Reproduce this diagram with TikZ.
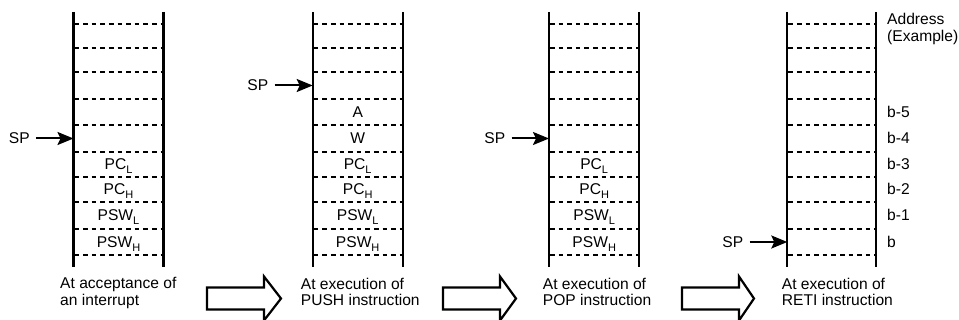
\documentclass[tikz,border=0pt]{standalone}
\usepackage{fontspec}
\setmainfont{Liberation Sans}
\usetikzlibrary{arrows.meta}
\newcommand\sbs[1]{\raisebox{-4pt}{\fontsize{11}{11}\selectfont #1}}
\begin{document}
\begin{tikzpicture}[x=1pt,y=-1pt,
  every node/.style={font=\fontsize{15.6}{16.5}\selectfont, inner sep=0pt},
  wall/.style={line width=2.2pt},
  slot/.style={line width=2pt, dash pattern=on 4.6pt off 4pt},
  sparrow/.style={line width=2pt, -{Stealth[length=16pt,width=13pt,inset=3pt]}, shorten <=6pt},
  hollow/.style={line width=2.2pt, fill=white, line join=miter},
  cell/.style={anchor=base},
  caption/.style={anchor=north west, align=left},
  spnode/.style={anchor=east},
]
\useasboundingbox (0,0) rectangle (959,320);

% stacks: walls and slot lines
\foreach \n/\xl/\xr in {1/73.5/163.5, 2/312.7/402.7, 3/549/639.3, 4/787.3/876} {
  \coordinate (L\n t) at (\xl,12);
  \coordinate (L\n b) at (\xl,267);
  \coordinate (R\n t) at (\xr,12);
  \coordinate (R\n b) at (\xr,267);
  \draw[wall] (L\n t) -- (L\n b);
  \draw[wall] (R\n t) -- (R\n b);
  \foreach \y in {24,48,72,99,125,152,177,202,229,255} {
    \draw[slot] (\xl+1,\y) -- (\xr-1,\y);
  }
}

% stack 1 contents
\node[cell] (s1c5) at (118.5,170) {PC\sbs{L}};
\node[cell] (s1c6) at (118.5,195) {PC\sbs{H}};
\node[cell] (s1c7) at (118.5,221) {PSW\sbs{L}};
\node[cell] (s1c8) at (118.5,247.5) {PSW\sbs{H}};

% stack 2 contents
\node[cell] (s2c3) at (357.7,117.5) {A};
\node[cell] (s2c4) at (357.7,144) {W};
\node[cell] (s2c5) at (357.7,170) {PC\sbs{L}};
\node[cell] (s2c6) at (357.7,195) {PC\sbs{H}};
\node[cell] (s2c7) at (357.7,221) {PSW\sbs{L}};
\node[cell] (s2c8) at (357.7,247.5) {PSW\sbs{H}};

% stack 3 contents
\node[cell] (s3c5) at (594.2,170) {PC\sbs{L}};
\node[cell] (s3c6) at (594.2,195) {PC\sbs{H}};
\node[cell] (s3c7) at (594.2,221) {PSW\sbs{L}};
\node[cell] (s3c8) at (594.2,247.5) {PSW\sbs{H}};

% addresses
\node[caption] (addr) at (887,13) {Address\\(Example)};
\node[cell, anchor=base west] (b5) at (887,117.5) {b-5};
\node[cell, anchor=base west] (b4) at (887,144) {b-4};
\node[cell, anchor=base west] (b3) at (887,170) {b-3};
\node[cell, anchor=base west] (b2) at (887,195) {b-2};
\node[cell, anchor=base west] (b1) at (887,221) {b-1};
\node[cell, anchor=base west] (b0) at (887,247.5) {b};

% SP pointers
\node[spnode] (sp1) at (30,138.5) {SP};
\coordinate (p1) at (73.5,138.5);
\draw[sparrow] (sp1) -- (p1);
\node[spnode] (sp2) at (268.5,85.5) {SP};
\coordinate (p2) at (312.7,85.5);
\draw[sparrow] (sp2) -- (p2);
\node[spnode] (sp3) at (505.5,138.5) {SP};
\coordinate (p3) at (549,138.5);
\draw[sparrow] (sp3) -- (p3);
\node[spnode] (sp4) at (743.5,242) {SP};
\coordinate (p4) at (787.3,242);
\draw[sparrow] (sp4) -- (p4);

% captions
\node[caption] (cap1) at (60,277.5) {At acceptance of\\an interrupt};
\node[caption] (cap2) at (300.7,277.5) {At execution of\\PUSH instruction};
\node[caption] (cap3) at (542.7,277.5) {At execution of\\POP instruction};
\node[caption] (cap4) at (781.7,277.5) {At execution of\\RETI instruction};

% hollow transition arrows
\foreach \a/\h/\t in {207/264/281, 443/500/516, 682/739/754} {
  \draw[hollow] (\a,287.5) -- (\h,287.5) -- (\h,276.5) -- (\t,298.5)
    -- (\h,320.5) -- (\h,309.5) -- (\a,309.5) -- cycle;
}
\end{tikzpicture}
\end{document}
